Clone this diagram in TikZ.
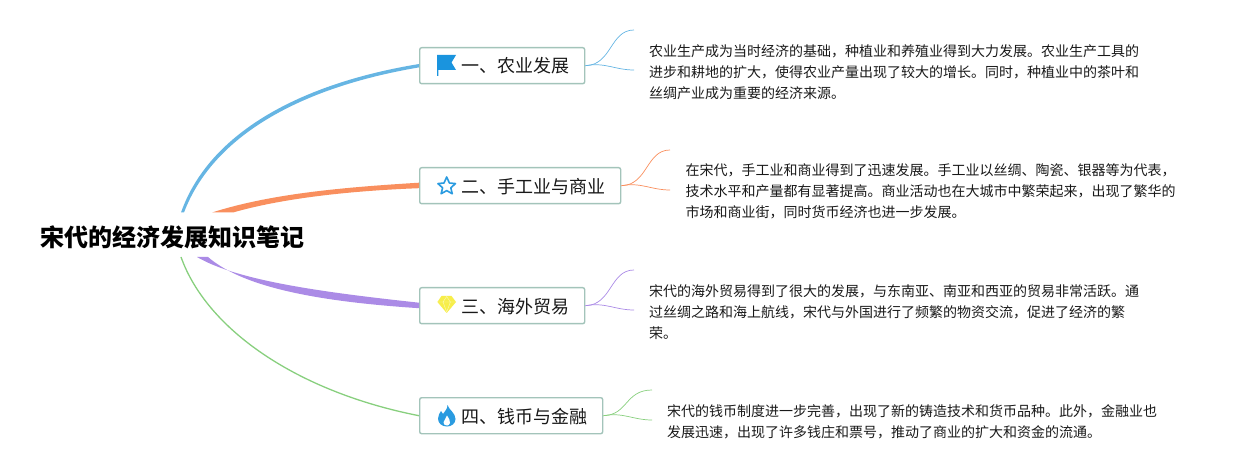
\documentclass[tikz,border=0pt]{standalone}
\usepackage{fontspec}
\setmainfont{Noto Sans CJK SC}
\usetikzlibrary{calc}
\definecolor{cblue}{HTML}{66B5E3}
\definecolor{corange}{HTML}{F98F5E}
\definecolor{cpurple}{HTML}{AB8BE6}
\definecolor{cgreen}{HTML}{88CF7E}
\definecolor{boxedge}{HTML}{A3C4BA}
\definecolor{iconblue}{HTML}{2A9BE0}
\definecolor{flagblue}{HTML}{1A94DE}
\definecolor{iconyellow}{HTML}{F7EE4A}
\definecolor{gemline}{HTML}{FCF8B0}
\tikzset{
  x=1pt,y=-1pt,
  topic/.style={draw=boxedge,line width=1.4pt,rounded corners=2pt,fill=white,anchor=north west,minimum height=36pt,inner sep=0pt},
  topictext/.style={anchor=west,inner sep=0pt,font=\fontsize{18}{18}\selectfont,text=black!90},
  note/.style={anchor=west,inner sep=0pt,font=\fontsize{14}{21}\selectfont,align=left,text=black!90},
  twig/.style={line width=0.7pt},
  title/.style={anchor=west,inner sep=0pt,font=\fontsize{24}{24}\selectfont\bfseries}
}
\begin{document}
\begin{tikzpicture}
\useasboundingbox (0,0) rectangle (1245,470);
\node[title] (root) at (40.5,237) {宋代的经济发展知识笔记};
% topic boxes
\node[topic,minimum width=165pt] (t1) at (419,47) {};
\node[topic,minimum width=201pt] (t2) at (419,167) {};
\node[topic,minimum width=165pt] (t3) at (419,287) {};
\node[topic,minimum width=183pt] (t4) at (419,397) {};
\node[topictext] (l1) at (461.5,66) {一、农业发展};
\node[topictext] (l2) at (461.5,187) {二、手工业与商业};
\node[topictext] (l3) at (461.5,307) {三、海外贸易};
\node[topictext] (l4) at (461.5,417) {四、钱币与金融};
% root anchors
\coordinate (r1) at (181,212.5);
\coordinate (r2) at (212,212.5);
\coordinate (r3) at (197,257);
\coordinate (r4) at (181,257);
% main branches
\fill[cblue] (r1) .. controls (209,133) and (300,83.5) .. ($(t1.west)+(0,-1.7)$) -- ($(t1.west)+(0,1.7)$) .. controls (300,87.5) and (213,136) .. ($(r1)+(3,0)$) -- cycle;
\fill[corange] (r2) .. controls (270,194) and (340,187.5) .. ($(t2.west)+(0,-3)$) -- ($(t2.west)+(0,2.5)$) .. controls (345,191) and (280,199) .. ($(r2)+(21,0)$) -- cycle;
\fill[cpurple] (r3) .. controls (238,281) and (325,292.5) .. ($(t3.west)+(0,-3)$) -- ($(t3.west)+(0,2.5)$) .. controls (325,302) and (245,289) .. ($(r3)+(11,0)$) -- cycle;
\draw[cgreen,line width=1.3pt] (r4) .. controls (207,330) and (298,392) .. (t4.west);
% twigs
\coordinate (e1a) at (634,30); \coordinate (e1b) at (634,70);
\coordinate (e2a) at (670,150); \coordinate (e2b) at (670,190);
\coordinate (e3a) at (634,270); \coordinate (e3b) at (634,310);
\coordinate (e4a) at (652,390); \coordinate (e4b) at (652,420);
\draw[twig,cblue] (t1.east) .. controls (612,65) and (610,30) .. (e1a);
\draw[twig,cblue] (t1.east) .. controls (605,62) and (615,70) .. (e1b);
\draw[twig,corange] (t2.east) .. controls (648,185) and (646,150) .. (e2a);
\draw[twig,corange] (t2.east) .. controls (641,182) and (651,190) .. (e2b);
\draw[twig,cpurple] (t3.east) .. controls (612,305) and (610,270) .. (e3a);
\draw[twig,cpurple] (t3.east) .. controls (605,302) and (615,310) .. (e3b);
\draw[twig,cgreen] (t4.east) .. controls (628,415) and (625,390) .. (e4a);
\draw[twig,cgreen] (t4.east) .. controls (623,412) and (633,420) .. (e4b);
% notes
\node[note] (n1) at (649,71.8) {农业生产成为当时经济的基础，种植业和养殖业得到大力发展。农业生产工具的\\进步和耕地的扩大，使得农业产量出现了较大的增长。同时，种植业中的茶叶和\\丝绸产业成为重要的经济来源。};
\node[note] (n2) at (685.5,191.5) {在宋代，手工业和商业得到了迅速发展。手工业以丝绸、陶瓷、银器等为代表，\\技术水平和产量都有显著提高。商业活动也在大城市中繁荣起来，出现了繁华的\\市场和商业街，同时货币经济也进一步发展。};
\node[note] (n3) at (649,311.8) {宋代的海外贸易得到了很大的发展，与东南亚、南亚和西亚的贸易非常活跃。通\\过丝绸之路和海上航线，宋代与外国进行了频繁的物资交流，促进了经济的繁\\荣。};
\node[note] (n4) at (667,421.8) {宋代的钱币制度进一步完善，出现了新的铸造技术和货币品种。此外，金融业也\\发展迅速，出现了许多钱庄和票号，推动了商业的扩大和资金的流通。};
% icons
\fill[flagblue] (437,55) -- (456,55) -- (451.5,62.5) -- (456,70) -- (438.3,70) -- (438.3,76) -- (437,76) -- cycle;
\draw[iconblue,line width=1.6pt,line join=round,fill=white] (446.7,177) -- (449.4,183) -- (455.5,183.6) -- (450.8,187.8) -- (452.3,193.8) -- (446.7,190.6) -- (441.1,193.8) -- (442.6,187.8) -- (437.9,183.6) -- (444,183) -- cycle;
\fill[iconyellow] (441.5,296) -- (451.5,296) -- (456,302) -- (446.7,313) -- (437.4,302) -- cycle;
\draw[gemline,line width=0.45pt] (438,302) -- (455.5,302) (443,302) -- (446.7,312) -- (450.4,302) (443,302) -- (446.7,296.5) -- (450.4,302);
\fill[iconblue] (447.5,405) .. controls (449,410) and (455.5,413) .. (455.5,419) .. controls (455.5,423.5) and (451.5,426.5) .. (447,426.5) .. controls (442,426.5) and (438,423.5) .. (438,418.5) .. controls (438,415) and (440,413) .. (441,411) .. controls (442,412) and (442.5,413) .. (443,414) .. controls (445,411) and (447.5,409) .. (447.5,405) -- cycle;
\fill[white] (447,415.5) .. controls (448,418.5) and (451,420) .. (450,423) .. controls (449.5,425) and (448,425.5) .. (447,425.5) .. controls (445,425.5) and (443.5,424.5) .. (443.5,422.5) .. controls (443.5,420) and (446.5,418.5) .. (447,415.5) -- cycle;
\end{tikzpicture}
\end{document}
